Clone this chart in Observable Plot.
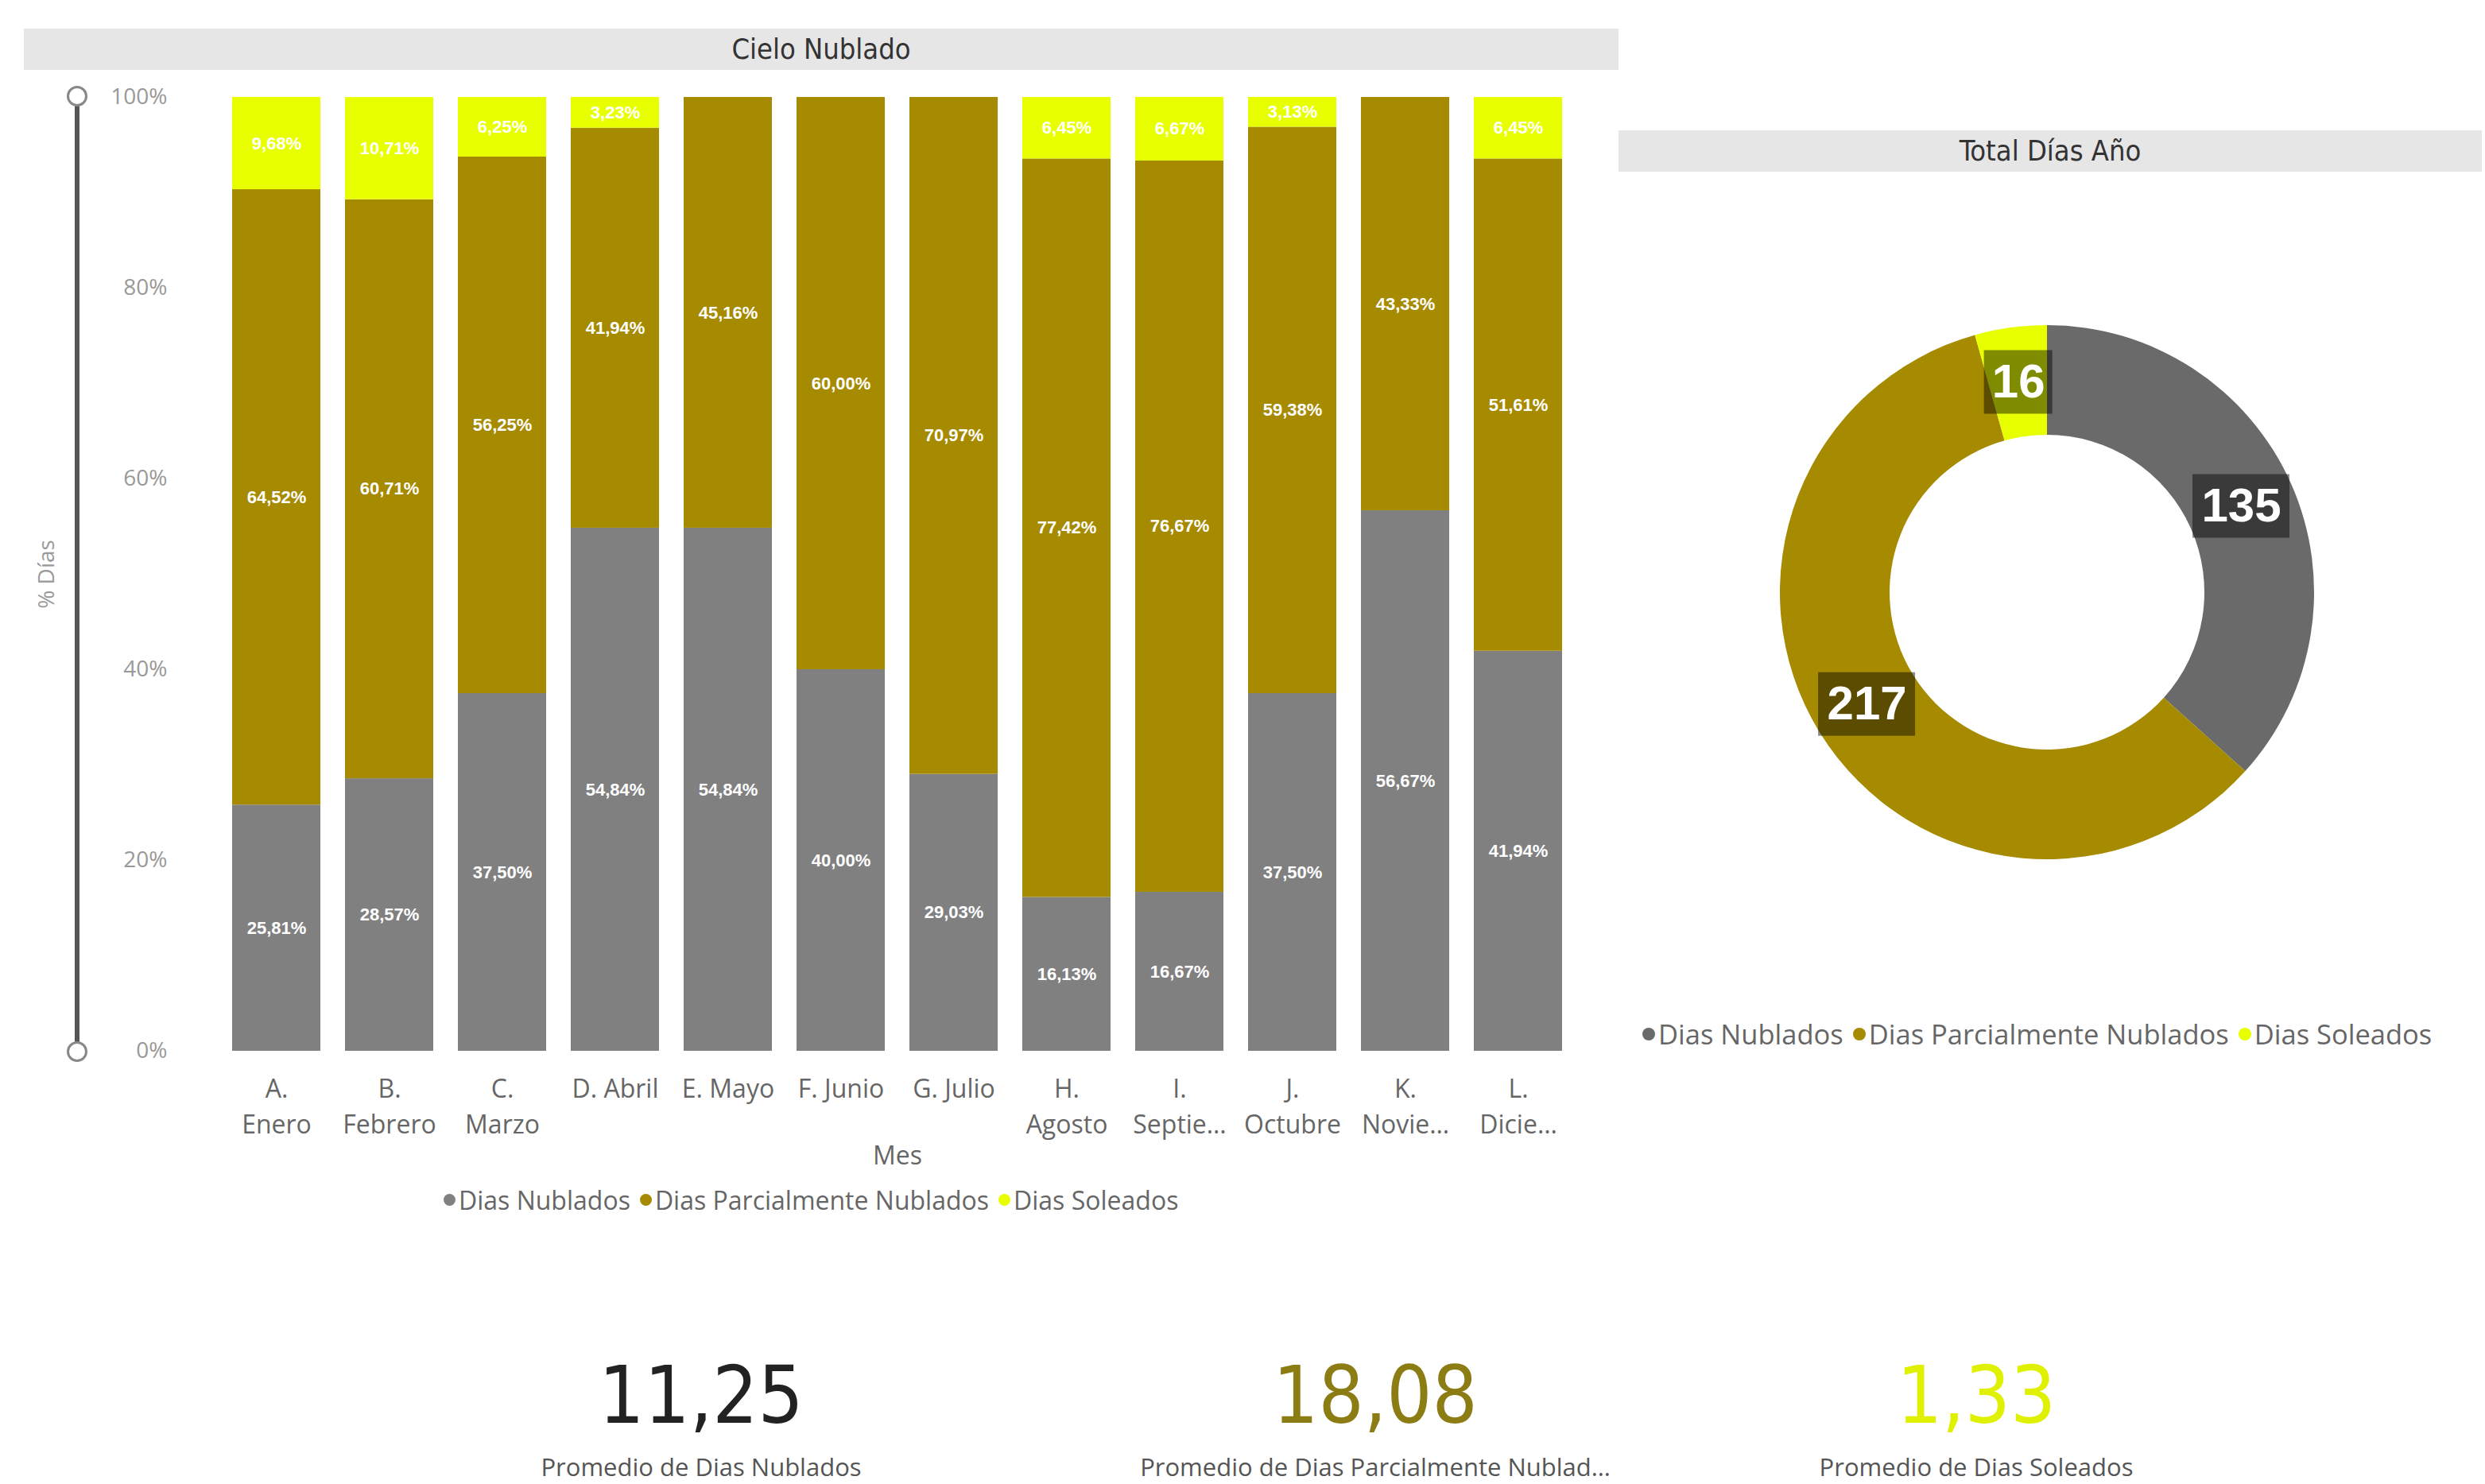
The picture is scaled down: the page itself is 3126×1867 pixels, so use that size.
<!DOCTYPE html>
<html>
<head>
<meta charset="utf-8">
<script src="https://cdn.jsdelivr.net/npm/d3@7"></script>
<script src="https://cdn.jsdelivr.net/npm/@observablehq/plot@0.6"></script>
<style>
  html, body { margin: 0; padding: 0; background: #fff; width: 3126px; height: 1867px; overflow: hidden; position: relative; }
  .titlebar { position: absolute; background: #e6e6e6; color: #333; font-family: "DejaVu Sans Condensed", "DejaVu Sans", sans-serif; font-size: 36px; text-align: center; }
  .legend { position: absolute; font-family: "Open Sans", sans-serif; color: #666; white-space: nowrap; display: flex; align-items: center; }
  .legend .dot { display: inline-block; border-radius: 50%; margin-right: 4px; }
  .legend .item { display: inline-flex; align-items: center; margin-right: 12px; }
  .kpinum { position: absolute; text-align: center; width: 800px; font-family: "Liberation Sans Narrow", "DejaVu Sans Condensed", sans-serif; font-size: 100px; line-height: 100px; }
  .kpilab { position: absolute; text-align: center; width: 800px; font-family: "Open Sans", sans-serif; font-size: 31px; line-height: 31px; color: #555; }
  #bars, #donut { position: absolute; }
</style>
</head>
<body>
<div class="titlebar" style="left:30px; top:36px; width:2006px; height:52px; line-height:52px;">Cielo Nublado</div>
<div class="titlebar" style="left:2036px; top:164px; width:1086px; height:52px; line-height:52px;">Total Días Año</div>

<!-- slider decoration -->
<div style="position:absolute; left:94px; top:122px; width:6px; height:1200px; background:#555;"></div>
<div style="position:absolute; left:84px; top:108px; width:20px; height:20px; border:3px solid #888; border-radius:50%; background:#fff;"></div>
<div style="position:absolute; left:84px; top:1310px; width:20px; height:20px; border:3px solid #888; border-radius:50%; background:#fff;"></div>

<div id="bars" style="left:0; top:0;"></div>
<div id="donut" style="left:2040px; top:230px;"></div>

<div class="legend" id="legBars" style="left:558px; top:1488px; font-size:32px;"></div>
<div class="legend" id="legDonut" style="left:2066px; top:1277px; font-size:34.5px;"></div>

<div id="kpis"></div>

<script>
// ---------- DATA ----------
const meses = ["A. Enero","B. Febrero","C. Marzo","D. Abril","E. Mayo","F. Junio","G. Julio","H. Agosto","I. Septiembre","J. Octubre","K. Noviembre","L. Diciembre"];
const mesesEtiqueta = ["A.\nEnero","B.\nFebrero","C.\nMarzo","D. Abril","E. Mayo","F. Junio","G. Julio","H.\nAgosto","I.\nSeptie…","J.\nOctubre","K.\nNovie…","L.\nDicie…"];
const series = ["Dias Nublados","Dias Parcialmente Nublados","Dias Soleados"];
const pctNublados = [25.81, 28.57, 37.50, 54.84, 54.84, 40.00, 29.03, 16.13, 16.67, 37.50, 56.67, 41.94];
const pctParcial  = [64.52, 60.71, 56.25, 41.94, 45.16, 60.00, 70.97, 77.42, 76.67, 59.38, 43.33, 51.61];
const pctSoleados = [ 9.68, 10.71,  6.25,  3.23,  0,     0,     0,     6.45,  6.67,  3.13,  0,     6.45];
const yTicks = [0, 20, 40, 60, 80, 100];
const totalDias = [135, 217, 16];
const promedios = [11.25, 18.08, 1.33];
const promedioEtiquetas = ["Promedio de Dias Nublados","Promedio de Dias Parcialmente Nublad…","Promedio de Dias Soleados"];

// ---------- STYLE ----------
const barColors = ["#808080", "#a68a00", "#e8ff00"];
const donutColors = ["#6a6a6a", "#a68a00", "#e8ff00"];
const kpiColors = ["#222222", "#8c7c14", "#dff000"];

const fmt = v => v.toFixed(2).replace(".", ",") + "%";

const seriesValues = [pctNublados, pctParcial, pctSoleados];
const rows = [];
series.forEach((s, si) => meses.forEach((m, mi) => rows.push({mes: m, serie: s, pct: seriesValues[si][mi]})));

// ---------- BAR CHART ----------
const bars = Plot.plot({
  width: 2040, height: 1480,
  marginTop: 122, marginBottom: 158, marginLeft: 274, marginRight: 57,
  style: {background: "transparent", fontFamily: "'Open Sans', sans-serif"},
  x: {domain: meses, paddingInner: 0.22, paddingOuter: 0.11},
  y: {domain: [0, 100]},
  color: {domain: series, range: barColors},
  marks: [
    Plot.barY(rows, {x: "mes", y: "pct", fill: "serie", z: "serie"}),
    Plot.text(rows.filter(d => d.pct > 0), Plot.stackY({
      x: "mes", y: "pct", z: "serie", text: d => fmt(d.pct),
      fill: "white", fontSize: 22, fontWeight: "bold", fontFamily: "Liberation Sans, Arial, sans-serif"
    })),
    Plot.axisX({
      tickSize: 0, tickPadding: 26, fontSize: 32, fill: "#666", lineHeight: 1.42,
      tickFormat: d => mesesEtiqueta[meses.indexOf(d)],
      label: "Mes", labelAnchor: "center", labelOffset: 142, labelArrow: "none"
    }),
    Plot.axisY({
      ticks: yTicks, tickSize: 0, tickPadding: 64, fontSize: 28, fill: "#999",
      tickFormat: d => d + "%",
      label: "% Días", labelAnchor: "center", labelOffset: 226, labelArrow: "none"
    })
  ]
});
document.getElementById("bars").appendChild(bars);

// ---------- DONUT ----------
const W = 1082, H = 1000, cx = 535, cy = 515;
const donutData = series.map((s, i) => ({serie: s, valor: totalDias[i]}));
const pieArcs = d3.pie().sort(null).value(d => d.valor)(donutData);
const arcGen = d3.arc().innerRadius(198).outerRadius(336);
const labelData = pieArcs.map(a => {
  const [x, y] = arcGen.centroid(a);
  const t = String(a.data.valor);
  return {x: cx + x, y: cy + y, text: t, w: 36 * t.length + 14};
});

const donut = Plot.plot({
  width: W, height: H, margin: 0,
  style: {background: "transparent"},
  x: {type: "identity", axis: null},
  y: {type: "identity", axis: null},
  marks: [
    () => {
      const g = d3.create("svg:g").attr("transform", `translate(${cx},${cy})`);
      g.selectAll("path").data(pieArcs).join("path")
        .attr("d", arcGen)
        .attr("fill", d => donutColors[d.index]);
      return g.node();
    },
    Plot.rect(labelData, {x1: d => d.x - d.w / 2, x2: d => d.x + d.w / 2, y1: d => d.y - 40, y2: d => d.y + 40, fill: "black", fillOpacity: 0.45}),
    Plot.text(labelData, {x: "x", y: "y", text: "text", fill: "white", fontSize: 60, fontWeight: "bold", fontFamily: "Liberation Sans, Arial, sans-serif"})
  ]
});
document.getElementById("donut").appendChild(donut);

// ---------- LEGENDS ----------
function legend(el, colors, dotSize) {
  series.forEach((s, i) => {
    const item = document.createElement("span");
    item.className = "item";
    const dot = document.createElement("span");
    dot.className = "dot";
    dot.style.width = dot.style.height = dotSize + "px";
    dot.style.background = colors[i];
    item.appendChild(dot);
    item.appendChild(document.createTextNode(s));
    el.appendChild(item);
  });
}
legend(document.getElementById("legBars"), barColors, 15);
legend(document.getElementById("legDonut"), donutColors, 16);

// ---------- KPIs ----------
const kpiCenters = [882, 1730, 2486];
const kpis = document.getElementById("kpis");
promedios.forEach((v, i) => {
  const n = document.createElement("div");
  n.className = "kpinum";
  n.style.left = (kpiCenters[i] - 400) + "px";
  n.style.top = "1706px";
  n.style.color = kpiColors[i];
  n.textContent = v.toFixed(2).replace(".", ",");
  kpis.appendChild(n);
  const l = document.createElement("div");
  l.className = "kpilab";
  l.style.left = (kpiCenters[i] - 400) + "px";
  l.style.top = "1830px";
  l.textContent = promedioEtiquetas[i];
  kpis.appendChild(l);
});
</script>
</body>
</html>
